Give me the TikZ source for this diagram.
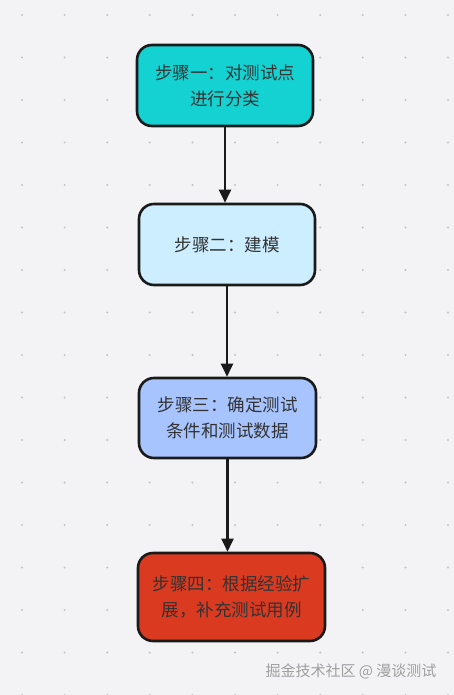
\documentclass[tikz,border=0pt]{standalone}
\usepackage{fontspec}
\setmainfont{Noto Sans CJK SC}
\usetikzlibrary{arrows.meta}
\definecolor{bgpaper}{HTML}{F3F3F5}
\definecolor{griddot}{HTML}{C2C2C6}
\definecolor{inkline}{HTML}{1A1A1A}
\definecolor{inktext}{HTML}{333333}
\definecolor{stepcyan}{HTML}{14D2D2}
\definecolor{stepsky}{HTML}{CCEEFF}
\definecolor{stepblue}{HTML}{A7C4FF}
\definecolor{stepred}{HTML}{D93A20}
\begin{document}
\begin{tikzpicture}[x=1pt,y=-1pt,
  stepbox/.style={draw=inkline,line width=2.6pt,rounded corners=15pt,
    minimum width=176pt,minimum height=81pt,align=center,text=inktext,
    font=\fontsize{17.5}{26}\selectfont},
  flow/.style={-{Triangle[length=13pt,width=12pt]},line width=2.4pt,draw=inkline}]
% paper with dotted grid
\useasboundingbox[fill=bgpaper] (0,0) rectangle (454,695);
\foreach \i in {0,...,10}
  \foreach \j in {0,...,16}
    \fill[griddot] (22+42.6*\i,15+42.5*\j) circle (1.1pt);
% the four steps
\node[stepbox,fill=stepcyan] (s1) at (225,85.5) {步骤一：对测试点\\进行分类};
\node[stepbox,fill=stepsky] (s2) at (227,244.5) {步骤二：建模};
\node[stepbox,fill=stepblue,minimum width=177pt,minimum height=80pt] (s3) at (227.5,418) {步骤三：确定测试\\条件和测试数据};
\node[stepbox,fill=stepred,minimum width=187pt,minimum height=88pt] (s4) at (231.5,597) {步骤四：根据经验扩\\展，补充测试用例};
% arrows between steps
\draw[flow] (s1.south) -- (s1.south |- s2.north);
\draw[flow] (s2.south) -- (s2.south |- s3.north);
\draw[flow] (s3.south) -- (s3.south |- s4.north);
% watermark
\node[text=gray!75,font=\fontsize{15}{18}\selectfont] (mark) at (351,671) {掘金技术社区 @ 漫谈测试};
\end{tikzpicture}
\end{document}
